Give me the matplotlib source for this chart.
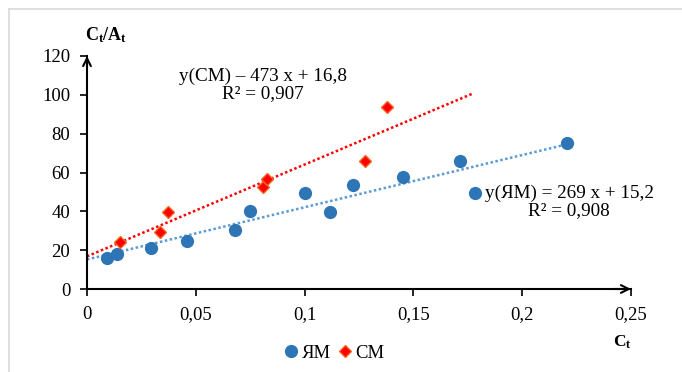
import matplotlib
matplotlib.use("Agg")
import matplotlib.pyplot as plt
from matplotlib.lines import Line2D
import numpy as np

plt.rcParams['font.family'] = ['Liberation Serif', 'DejaVu Serif']
plt.rcParams['mathtext.fontset'] = 'custom'
plt.rcParams['mathtext.rm'] = 'Liberation Serif'
plt.rcParams['mathtext.bf'] = 'Liberation Serif:bold'
plt.rcParams['mathtext.it'] = 'Liberation Serif:italic'

# Data
ym_x = [0.009, 0.0139, 0.0293, 0.0461, 0.0679, 0.0747, 0.1000, 0.1118, 0.1222, 0.1451, 0.1714, 0.1783, 0.2204]
ym_y = [16.0, 18.2, 21.3, 24.6, 30.5, 40.0, 49.6, 39.8, 53.6, 57.8, 65.8, 49.3, 75.3]
cm_x = [0.0153, 0.0334, 0.0371, 0.0807, 0.0825, 0.1279, 0.1377]
cm_y = [24.0, 29.4, 39.8, 52.3, 56.5, 66.1, 93.6]

ym_slope, ym_icpt = 269, 15.2
cm_slope, cm_icpt = 473, 16.8
ym_trend_x = [0.0, 0.2204]
cm_trend_x = [0.0, 0.177]

x_ticks = [0, 0.05, 0.1, 0.15, 0.2, 0.25]
x_ticklabels = ["0", "0,05", "0,1", "0,15", "0,2", "0,25"]
y_ticks = [0, 20, 40, 60, 80, 100, 120]
y_ticklabels = ["0", "20", "40", "60", "80", "100", "120"]

ym_label = "y(ЯМ) = 269 x + 15,2\nR² = 0,908"
cm_label = "y(СМ) – 473 x + 16,8\nR² = 0,907"

W, H = 682, 372
fig = plt.figure(figsize=(W/100, H/100), dpi=100)

# outer frame (top and left visible)
fig.add_artist(Line2D([9/W, 9/W], [0, 1-9/H], color='#D9D9D9', lw=1.2, transform=fig.transFigure))
fig.add_artist(Line2D([9/W, 1], [1-9/H, 1-9/H], color='#D9D9D9', lw=1.2, transform=fig.transFigure))

x0, x1, y0, y1 = 87, 631, 289, 56
ax = fig.add_axes([x0/W, 1-y0/H, (x1-x0)/W, (y0-y1)/H])
ax.set_xlim(0, 0.25)
ax.set_ylim(0, 120)
for s in ['top', 'right']:
    ax.spines[s].set_visible(False)
for s in ['left', 'bottom']:
    ax.spines[s].set_linewidth(1.5)
    ax.spines[s].set_color('black')

ax.set_xticks(x_ticks)
ax.set_xticklabels(x_ticklabels)
ax.set_yticks(y_ticks)
ax.set_yticklabels(y_ticklabels)
ax.tick_params(axis='both', direction='out', length=5, width=1.2, labelsize=13.5)
ax.tick_params(axis='y', pad=7)
ax.tick_params(axis='x', pad=7)

# arrows
ax.annotate('', xy=(0, 1.0), xycoords='axes fraction', xytext=(0, 0.95),
            arrowprops=dict(arrowstyle='->', lw=1.5, color='black', mutation_scale=14, shrinkA=0, shrinkB=0))
ax.annotate('', xy=(1.0, 0), xycoords='axes fraction', xytext=(0.97, 0),
            arrowprops=dict(arrowstyle='->', lw=1.5, color='black', mutation_scale=14, shrinkA=0, shrinkB=0))

# trendlines
tx = np.array(ym_trend_x)
ax.plot(tx, ym_slope*tx + ym_icpt, color='#5B9BD5', lw=1.8, ls=(0, (1, 1)), zorder=2, clip_on=False)
tx = np.array(cm_trend_x)
ax.plot(tx, cm_slope*tx + cm_icpt, color='#FF0000', lw=1.8, ls=(0, (1, 1)), zorder=2, clip_on=False)

# points
ax.plot(ym_x, ym_y, 'o', color='#2E75B6', ms=8.5, mec='#2E75B6', zorder=3, clip_on=False, label='ЯМ')
ax.plot(cm_x, cm_y, 'D', color='#FF0000', ms=6.5, mec='#F26522', mew=1, zorder=3, clip_on=False, label='СМ')

# equations
fig.text(263/W, 1-85/H, cm_label, ha='center', va='center', fontsize=13.8, linespacing=1.0)
fig.text(569/W, 1-202/H, ym_label, ha='center', va='center', fontsize=13.8, linespacing=1.0)

# axis titles
fig.text(106/W, 1-35/H, r'$\mathbf{C_t/A_t}$', ha='center', va='center', fontsize=13)
fig.text(622/W, 1-342/H, r'$\mathbf{C_t}$', ha='center', va='center', fontsize=12.5)

# legend
fig.legend(handles=ax.lines[2:4], labels=['ЯМ', 'СМ'], loc='center', bbox_to_anchor=(335/W, 1-353/H),
           ncol=2, frameon=False, fontsize=13.5, handlelength=0.6, handletextpad=0.25, columnspacing=0.45,
           borderaxespad=0)

fig.savefig('out.png', dpi=100)
